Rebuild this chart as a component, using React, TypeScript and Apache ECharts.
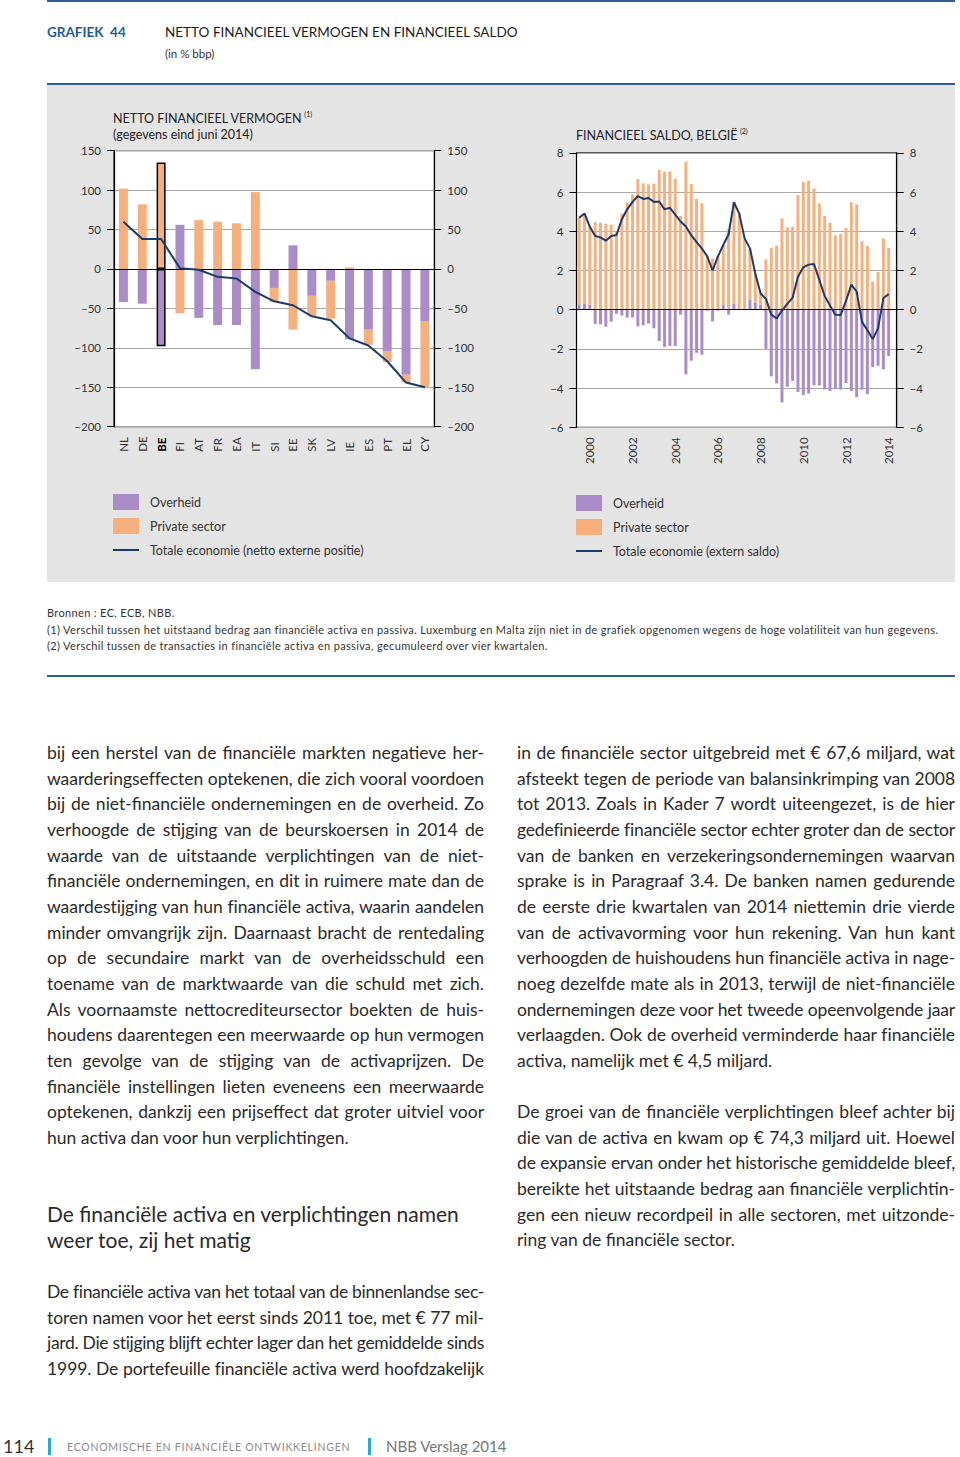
import React, { useEffect, useRef } from 'react';
import * as echarts from 'echarts';

// ---------- DATA ----------
const countries = ['NL', 'DE', 'BE', 'FI', 'AT', 'FR', 'EA', 'IT', 'SI', 'EE', 'SK', 'LV', 'IE', 'ES', 'PT', 'EL', 'CY'];
const nfvOverheid = [-42, -44, -98, 56, -62, -71, -71, -127, -24, 30, -34, -15, -89, -77, -104, -134, -66];
const nfvPrivate = [102, 82, 135, -56, 62, 60, 58, 97.5, -18, -77, -25, -48, 2, -19, -14, -10, -84];
const nfvTotaal = [60, 38, 38, 1, -1, -10, -12, -29, -41, -46, -60, -65, -88, -97, -117, -144, -150];

const years = [2000, 2001, 2002, 2003, 2004, 2005, 2006, 2007, 2008, 2009, 2010, 2011, 2012, 2013, 2014];
const quarters: string[] = [];
years.forEach((y) => ['K1', 'K2', 'K3', 'K4'].forEach((q) => quarters.push(`${y}${q}`)));

const saldoOverheid = [0.27, 0.3, 0.25, -0.73, -0.75, -0.87, -0.61, -0.2, -0.3, -0.4,
  -0.4, -0.85, -0.8, -0.7, -0.95, -1.6, -1.9, -1.85, -1.85, -0.25,
  -3.3, -2.6, -2.2, -2.3, -0.05, -0.6, -0.05, 0.25, -0.25, 0.3,
  0.02, 0.02, 0.5, 0.35, 0.25, -2.0, -3.4, -3.76, -4.73, -3.93,
  -3.64, -4.2, -4.35, -4.28, -3.85, -3.87, -4.06, -4.15, -4.05, -4.07,
  -3.75, -4.15, -4.46, -4.08, -4.31, -2.93, -2.86, -3.04, -2.36, null];
const saldoPrivate = [4.42, 4.61, 3.98, 4.47, 4.44, 4.39, 4.34, 4.0, 4.9, 5.46,
  5.88, 6.67, 6.45, 6.39, 6.43, 7.13, 7.04, 7.06, 6.68, 4.78,
  7.55, 6.41, 5.65, 5.43, 2.75, 2.62, 2.75, 3.05, 4.1, 5.2,
  4.9, 3.62, 2.63, 1.5, 0.58, 2.57, 3.16, 3.27, 4.66, 4.2,
  4.23, 5.85, 6.53, 6.58, 6.19, 5.43, 4.78, 4.44, 3.79, 3.86,
  4.17, 5.48, 5.37, 3.5, 3.25, 1.43, 1.92, 3.64, 3.15, null];
const saldoTotaal = [4.69, 4.91, 4.23, 3.76, 3.69, 3.52, 3.76, 3.81, 4.62, 5.12,
  5.5, 5.8, 5.65, 5.7, 5.5, 5.52, 5.12, 5.2, 4.85, 4.5,
  4.25, 3.8, 3.45, 3.12, 2.72, 2.0, 2.72, 3.3, 3.85, 5.48,
  4.9, 3.64, 3.13, 1.85, 0.83, 0.55, -0.25, -0.45, -0.05, 0.3,
  0.62, 1.68, 2.16, 2.3, 2.33, 1.52, 0.7, 0.22, -0.26, -0.27,
  0.45, 1.28, 0.92, -0.62, -1.05, -1.5, -0.95, 0.58, 0.8, null];

const nfvTicks = { min: -200, max: 150, interval: 50 };
const saldoTicks = { min: -6, max: 8, interval: 2 };

// ---------- TEXT ----------
type Line = { t: string; j: boolean };
const col1: Line[] = [
  { t: 'bij een herstel van de financiële markten negatieve her-', j: true },
  { t: 'waarderingseffecten optekenen, die zich vooral voordoen', j: true },
  { t: 'bij de niet-financiële ondernemingen en de overheid. Zo', j: true },
  { t: 'verhoogde de stijging van de beurskoersen in 2014 de', j: true },
  { t: 'waarde van de uitstaande verplichtingen van de niet-', j: true },
  { t: 'financiële ondernemingen, en dit in ruimere mate dan de', j: true },
  { t: 'waardestijging van hun financiële activa, waarin aandelen', j: true },
  { t: 'minder omvangrijk zijn. Daarnaast bracht de rentedaling', j: true },
  { t: 'op de secundaire markt van de overheidsschuld een', j: true },
  { t: 'toename van de marktwaarde van die schuld met zich.', j: true },
  { t: 'Als voornaamste nettocrediteursector boekten de huis-', j: true },
  { t: 'houdens daarentegen een meerwaarde op hun vermogen', j: true },
  { t: 'ten gevolge van de stijging van de activaprijzen. De', j: true },
  { t: 'financiële instellingen lieten eveneens een meerwaarde', j: true },
  { t: 'optekenen, dankzij een prijseffect dat groter uitviel voor', j: true },
  { t: 'hun activa dan voor hun verplichtingen.', j: false },
];
const col1b: Line[] = [
  { t: 'De financiële activa van het totaal van de binnenlandse sec-', j: true },
  { t: 'toren namen voor het eerst sinds 2011 toe, met € 77 mil-', j: true },
  { t: 'jard. Die stijging blijft echter lager dan het gemiddelde sinds', j: true },
  { t: '1999. De portefeuille financiële activa werd hoofdzakelijk', j: true },
];
const col2: Line[] = [
  { t: 'in de financiële sector uitgebreid met € 67,6 miljard, wat', j: true },
  { t: 'afsteekt tegen de periode van balansinkrimping van 2008', j: true },
  { t: 'tot 2013. Zoals in Kader 7 wordt uiteengezet, is de hier', j: true },
  { t: 'gedefinieerde financiële sector echter groter dan de sector', j: true },
  { t: 'van de banken en verzekeringsondernemingen waarvan', j: true },
  { t: 'sprake is in Paragraaf 3.4. De banken namen gedurende', j: true },
  { t: 'de eerste drie kwartalen van 2014 niettemin drie vierde', j: true },
  { t: 'van de activavorming voor hun rekening. Van hun kant', j: true },
  { t: 'verhoogden de huishoudens hun financiële activa in nage-', j: true },
  { t: 'noeg dezelfde mate als in 2013, terwijl de niet-financiële', j: true },
  { t: 'ondernemingen deze voor het tweede opeenvolgende jaar', j: true },
  { t: 'verlaagden. Ook de overheid verminderde haar financiële', j: true },
  { t: 'activa, namelijk met € 4,5 miljard.', j: false },
  { t: '', j: false },
  { t: 'De groei van de financiële verplichtingen bleef achter bij', j: true },
  { t: 'die van de activa en kwam op € 74,3 miljard uit. Hoewel', j: true },
  { t: 'de expansie ervan onder het historische gemiddelde bleef,', j: true },
  { t: 'bereikte het uitstaande bedrag aan financiële verplichtin-', j: true },
  { t: 'gen een nieuw recordpeil in alle sectoren, met uitzonde-', j: true },
  { t: 'ring van de financiële sector.', j: false },
];

const purple = '#a98cc8';
const orange = '#f6b07d';
const navy = '#1b3b6b';
const rule = '#2e5f8e';
const FONT = 'Lato, "Open Sans", sans-serif';
const BODY_SIZE = 17.5;
const BODY_WEIGHT = 400;
// legend icon for the line series: a 2px stroke in a 26x16 box
const LINE_ICON = 'path://M0,0L0.01,0M0,7L26,7L26,9L0,9ZM0,16L0.01,16';

const dash = (v: number) => (v < 0 ? '\u2013' + Math.abs(v) : String(v));

let ctxCache: CanvasRenderingContext2D | null = null;
function measure(text: string, size: number, weight = 400) {
  if (!ctxCache) ctxCache = document.createElement('canvas').getContext('2d')!;
  ctxCache.font = `${weight} ${size}px Lato`;
  return ctxCache.measureText(text).width;
}

function TextCol({ lines, left, top, width, size, lh }: { lines: Line[]; left: number; top: number; width: number; size: number; lh: number }) {
  return (
    <div style={{ position: 'absolute', left, top, width, fontSize: size, fontWeight: BODY_WEIGHT, color: '#2a2a2a', fontFamily: FONT }}>
      {lines.map((l, i) => {
        const nat = l.t ? measure(l.t, size, BODY_WEIGHT) : 0;
        const ls = nat > width - 1 ? (width - 1 - nat) / l.t.length : 0;
        return (
          <div key={i} style={{ height: lh, lineHeight: `${lh}px`, whiteSpace: 'nowrap', letterSpacing: `${ls}px`, textAlign: l.j ? 'justify' : 'left', textAlignLast: l.j ? 'justify' : 'left' } as any}>
            {l.t || '\u00a0'}
          </div>
        );
      })}
    </div>
  );
}

export default function App() {
  const ref = useRef<HTMLDivElement>(null);

  useEffect(() => {
    const chart = echarts.init(ref.current!, undefined, { renderer: 'svg' });
    const axisLabelStyle = { fontFamily: FONT, fontSize: 11.5, color: '#333' };
    const yCommon = (gridIndex: number, pos: 'left' | 'right', t: any, split: boolean) => ({
      type: 'value', gridIndex, position: pos, min: t.min, max: t.max, interval: t.interval,
      axisLine: { show: true, lineStyle: { color: '#000', width: 1.2 } },
      axisTick: { show: true, length: 7, lineStyle: { color: '#000', width: 1 } },
      axisLabel: { ...axisLabelStyle, margin: 13, formatter: dash },
      splitLine: { show: split, lineStyle: { color: '#a9a9a9', width: 1 } },
    });
    const zeroLine = {
      silent: true, symbol: 'none', label: { show: false },
      lineStyle: { color: '#000', width: 1.2, type: 'solid' }, data: [{ yAxis: 0 }],
    };
    const beBorder = (arr: number[]) => arr.map((v, i) => (countries[i] === 'BE' ? { value: v, itemStyle: { borderColor: '#000', borderWidth: 1.5 } } : v));

    const t1 = 'NETTO FINANCIEEL VERMOGEN';
    const t2 = 'FINANCIEEL SALDO, BELGIË';
    const w1 = measure(t1, 12.5);
    const w2 = measure(t2, 12.5);

    const legendBase = {
      orient: 'vertical', itemWidth: 26, itemHeight: 16, itemGap: 8, selectedMode: false, padding: 0,
      textStyle: { fontFamily: FONT, fontSize: 12.5, color: '#333', padding: [0, 0, 0, 6] },
    };

    chart.setOption({
      animation: false,
      backgroundColor: 'transparent',
      textStyle: { fontFamily: FONT },
      grid: [
        { left: 67, top: 65.7, width: 320.3, height: 276, show: true, backgroundColor: '#fff', borderColor: '#000', borderWidth: 1 },
        { left: 529.5, top: 67.9, width: 320.2, height: 274.4, show: true, backgroundColor: '#fff', borderColor: '#000', borderWidth: 1 },
      ],
      xAxis: [
        {
          type: 'category', gridIndex: 0, data: countries, boundaryGap: true,
          axisLine: { lineStyle: { color: '#000', width: 1.2 } },
          axisTick: { inside: true, length: 7, interval: 0, lineStyle: { color: '#000' } },
          axisLabel: {
            ...axisLabelStyle, interval: 0, rotate: 90, align: 'left', margin: 25,
            formatter: (v: string) => (v === 'BE' ? `{b|${v}}` : v),
            rich: { b: { fontFamily: FONT, fontSize: 11.5, fontWeight: 'bold', color: '#000' } },
          },
        },
        {
          type: 'category', gridIndex: 1, data: quarters, boundaryGap: true,
          axisLine: { lineStyle: { color: '#000', width: 1.2 } },
          axisTick: { inside: true, length: 7, interval: (i: number) => i % 4 === 0, lineStyle: { color: '#000' } },
          axisLabel: {
            ...axisLabelStyle, rotate: 90, margin: 10,
            interval: (i: number) => i % 8 === 2,
            formatter: (v: string) => v.slice(0, 4),
          },
        },
      ],
      yAxis: [
        yCommon(0, 'left', nfvTicks, true),
        yCommon(0, 'right', nfvTicks, false),
        yCommon(1, 'left', saldoTicks, true),
        yCommon(1, 'right', saldoTicks, false),
      ],
      legend: [
        {
          ...legendBase, left: 66, top: 409,
          data: [{ name: 'Overheid', icon: 'rect' }, { name: 'Private sector', icon: 'rect' }, { name: 'Totale economie (netto externe positie)', icon: LINE_ICON, itemStyle: { color: navy } }],
        },
        {
          ...legendBase, left: 529, top: 410,
          data: [{ name: 'Overheid', icon: 'rect' }, { name: 'Private sector', icon: 'rect' }, { name: 'Totale economie (extern saldo)', icon: LINE_ICON, itemStyle: { color: navy } }],
        },
      ],
      graphic: [
        { type: 'text', x: 66, y: 33, style: { text: t1, fontFamily: FONT, fontSize: 12.5, fill: '#222', verticalAlign: 'middle' } },
        { type: 'text', x: 66 + w1 + 2, y: 29, style: { text: '(1)', fontFamily: FONT, fontSize: 7, fill: '#222', verticalAlign: 'middle' } },
        { type: 'text', x: 66, y: 49, style: { text: '(gegevens eind juni 2014)', fontFamily: FONT, fontSize: 12.5, fill: '#222', verticalAlign: 'middle' } },
        { type: 'text', x: 529, y: 50, style: { text: t2, fontFamily: FONT, fontSize: 12.5, fill: '#222', verticalAlign: 'middle' } },
        { type: 'text', x: 529 + w2 + 2, y: 46, style: { text: '(2)', fontFamily: FONT, fontSize: 7, fill: '#222', verticalAlign: 'middle' } },
      ],
      series: [
        { type: 'bar', name: 'Overheid', xAxisIndex: 0, yAxisIndex: 0, stack: 'nfv', barWidth: 9, data: beBorder(nfvOverheid), itemStyle: { color: purple } },
        { type: 'bar', name: 'Private sector', xAxisIndex: 0, yAxisIndex: 0, stack: 'nfv', barWidth: 9, data: beBorder(nfvPrivate), itemStyle: { color: orange } },
        {
          type: 'line', name: 'Totale economie (netto externe positie)', xAxisIndex: 0, yAxisIndex: 0, data: nfvTotaal,
          symbol: 'none', lineStyle: { color: navy, width: 2 }, itemStyle: { color: navy }, z: 5, markLine: zeroLine,
        },
        { type: 'bar', name: 'Overheid', xAxisIndex: 1, yAxisIndex: 2, stack: 'saldo', barWidth: 3, data: saldoOverheid, itemStyle: { color: purple } },
        { type: 'bar', name: 'Private sector', xAxisIndex: 1, yAxisIndex: 2, stack: 'saldo', barWidth: 3, data: saldoPrivate, itemStyle: { color: orange } },
        {
          type: 'line', name: 'Totale economie (extern saldo)', xAxisIndex: 1, yAxisIndex: 2, data: saldoTotaal,
          symbol: 'none', lineStyle: { color: navy, width: 2 }, itemStyle: { color: navy }, z: 5, markLine: zeroLine,
        },
      ],
    });
    return () => chart.dispose();
  }, []);

  const abs = (left: number, top: number, extra: any = {}) => ({ position: 'absolute', left, top, ...extra } as React.CSSProperties);

  return (
    <div style={{ position: 'absolute', left: 0, top: 0, width: 960, height: 1457, background: '#fff', fontFamily: FONT, color: '#222', overflow: 'hidden' }}>
      {/* header */}
      <div style={abs(47, 0, { width: 908, height: 2, background: rule })} />
      <div style={abs(47, 23, { fontSize: 13.5, fontWeight: 700, color: '#1f5a96', lineHeight: '18px', whiteSpace: 'pre' })}>{'GRAFIEK  44'}</div>
      <div style={abs(165, 23, { fontSize: 13.5, color: '#1a1a1a', lineHeight: '18px' })}>NETTO FINANCIEEL VERMOGEN EN FINANCIEEL SALDO</div>
      <div style={abs(165, 46, { fontSize: 11.5, color: '#333', lineHeight: '16px' })}>(in % bbp)</div>
      <div style={abs(47, 83, { width: 908, height: 2, background: rule })} />

      {/* chart */}
      <div ref={ref} style={abs(47, 85, { width: 908, height: 497, background: '#e4e4e4' })} />

      {/* footnotes */}
      <div style={abs(47, 605, { fontSize: 11, color: '#333', lineHeight: '16.5px', letterSpacing: '0.35px', whiteSpace: 'nowrap' })}>
        <div>Bronnen : EC, ECB, NBB.</div>
        <div>(1) Verschil tussen het uitstaand bedrag aan financiële activa en passiva. Luxemburg en Malta zijn niet in de grafiek opgenomen wegens de hoge volatiliteit van hun gegevens.</div>
        <div>(2) Verschil tussen de transacties in financiële activa en passiva, gecumuleerd over vier kwartalen.</div>
      </div>
      <div style={abs(47, 675, { width: 908, height: 2, background: rule })} />

      {/* body text */}
      <TextCol lines={col1} left={47} top={740.2} width={437} size={BODY_SIZE} lh={25.65} />
      <div style={abs(47, 1201, { fontSize: 21, fontWeight: 400, color: '#2a2a2a', lineHeight: '26px' })}>
        <div>De financiële activa en verplichtingen namen</div>
        <div>weer toe, zij het matig</div>
      </div>
      <TextCol lines={col1b} left={47} top={1279.2} width={437} size={BODY_SIZE} lh={25.65} />
      <TextCol lines={col2} left={517} top={740.2} width={438} size={BODY_SIZE} lh={25.65} />

      {/* footer */}
      <div style={abs(3, 1435, { fontSize: 18, color: '#333', lineHeight: '22px' })}>114</div>
      <div style={abs(48, 1438, { width: 3, height: 17, background: '#2aa6dd' })} />
      <div style={abs(67, 1439, { fontSize: 10.5, color: '#8a8a8a', letterSpacing: '0.75px', lineHeight: '16px' })}>ECONOMISCHE EN FINANCIËLE ONTWIKKELINGEN</div>
      <div style={abs(368, 1438, { width: 3, height: 17, background: '#2aa6dd' })} />
      <div style={abs(386, 1436, { fontSize: 15, color: '#777', lineHeight: '20px' })}>NBB Verslag 2014</div>
    </div>
  );
}
